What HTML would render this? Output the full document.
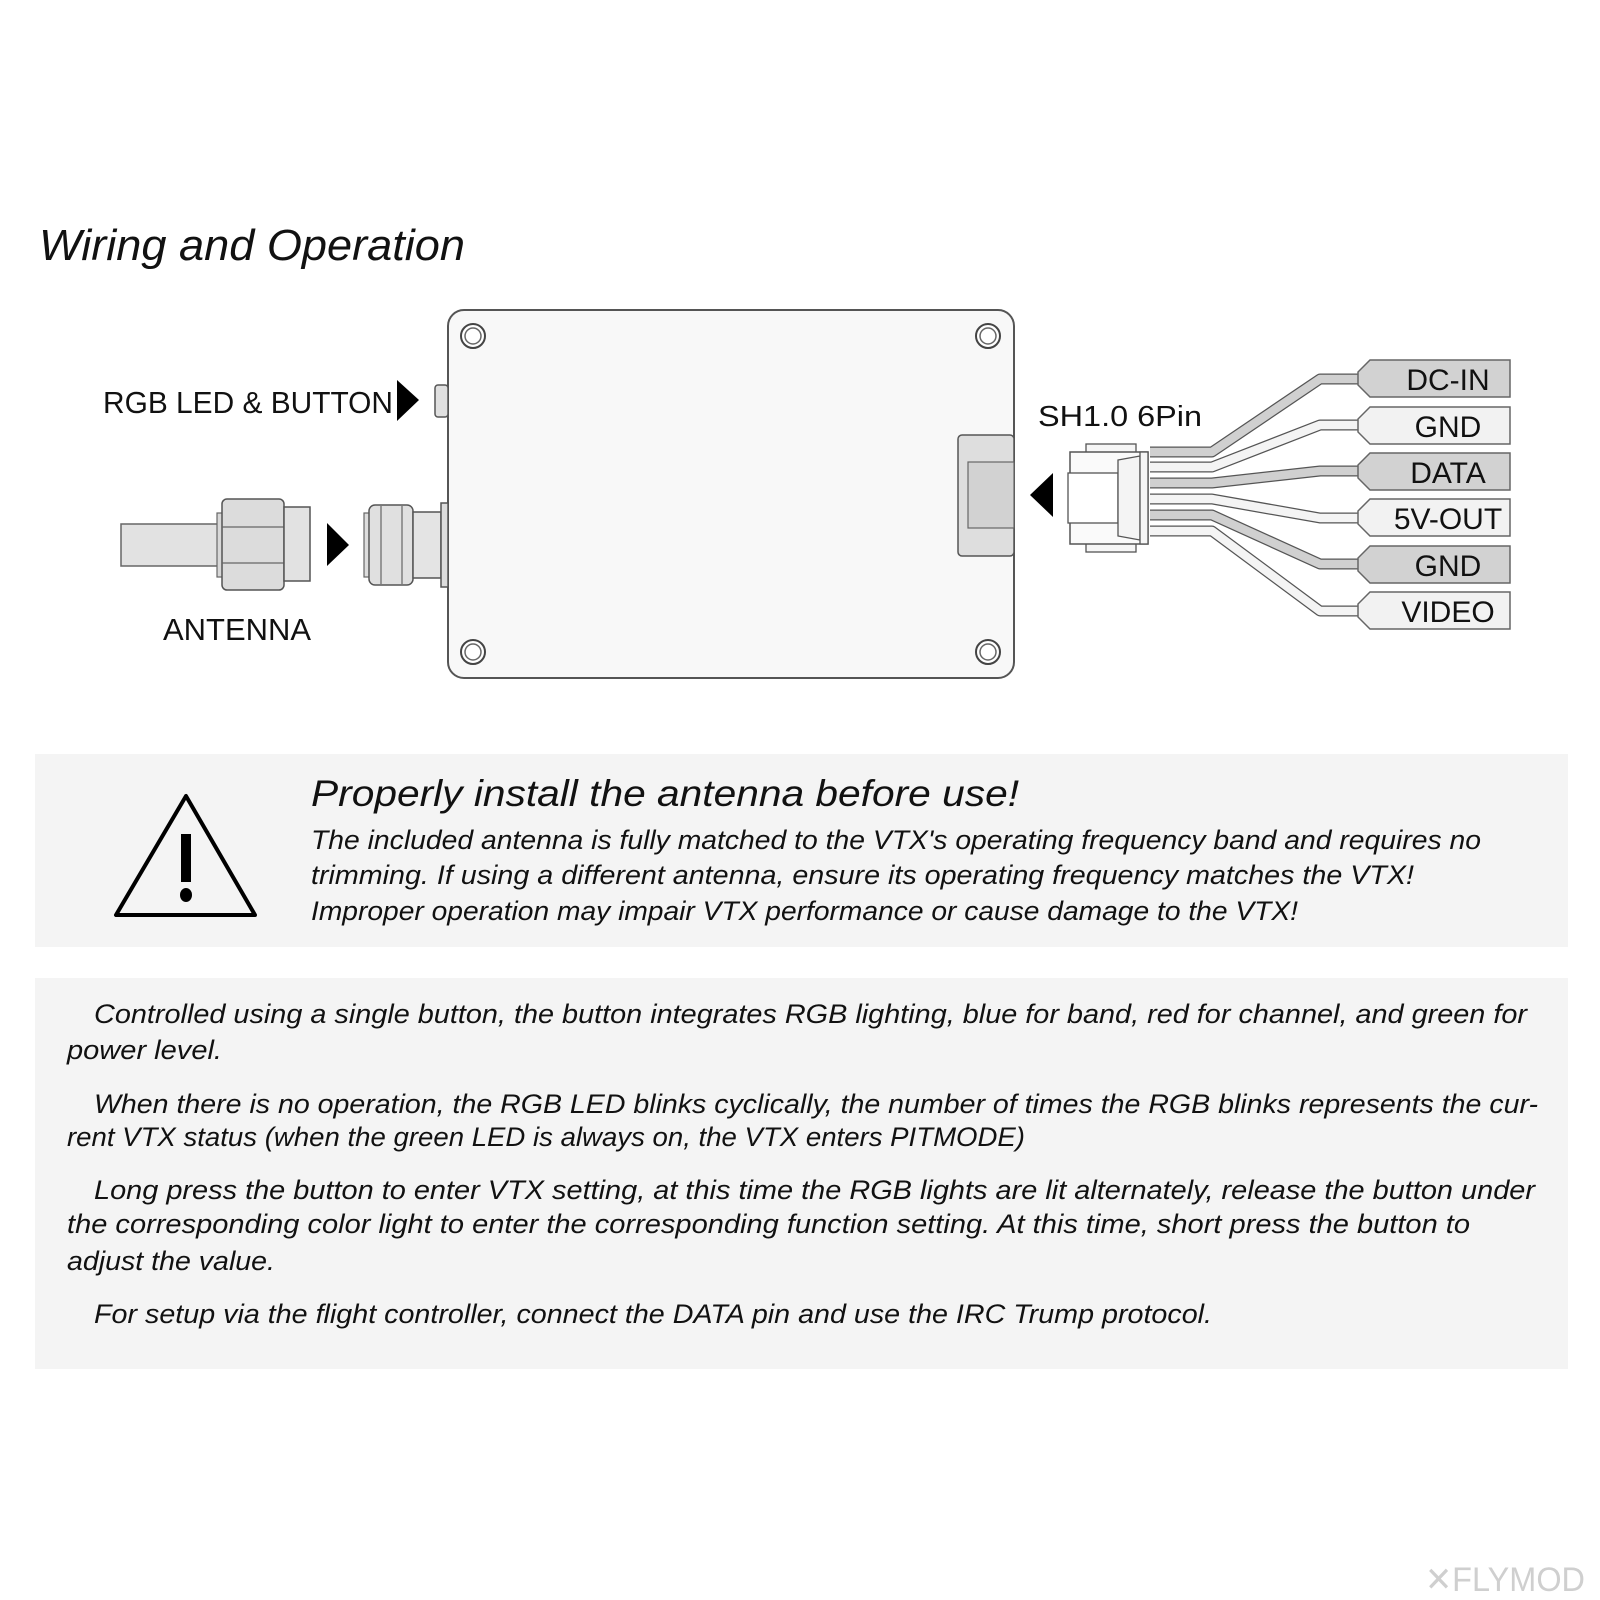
<!DOCTYPE html>
<html><head><meta charset="utf-8"><style>html,body{margin:0;padding:0;background:#fff}svg{display:block}</style></head>
<body>
<svg width="1600" height="1600" viewBox="0 0 1600 1600" xmlns="http://www.w3.org/2000/svg" font-family="Liberation Sans, sans-serif">
<rect width="1600" height="1600" fill="#fff"/>
<text x="39" y="260" font-size="44" font-style="italic" textLength="426" lengthAdjust="spacingAndGlyphs" fill="#111">Wiring and Operation</text>

<!-- board -->
<rect x="448" y="310" width="566" height="368" rx="16" fill="#f8f8f8" stroke="#555" stroke-width="2"/>
<g fill="#fff" stroke="#444" stroke-width="2">
<circle cx="473" cy="336" r="12"/><circle cx="988" cy="336" r="12"/><circle cx="473" cy="652" r="12"/><circle cx="988" cy="652" r="12"/>
</g>
<g fill="none" stroke="#666" stroke-width="1.5">
<circle cx="473" cy="336" r="8"/><circle cx="988" cy="336" r="8"/><circle cx="473" cy="652" r="8"/><circle cx="988" cy="652" r="8"/>
</g>
<!-- button -->
<rect x="435" y="385" width="13" height="32" rx="3" fill="#e0e0e0" stroke="#555" stroke-width="1.5"/>
<text x="103" y="413" font-size="31" textLength="290" lengthAdjust="spacingAndGlyphs" fill="#111">RGB LED &amp; BUTTON</text>
<polygon points="397,380 419,400 397,421" fill="#000"/>

<!-- antenna -->
<rect x="121" y="524" width="100" height="42" fill="#e2e2e2" stroke="#666" stroke-width="1.5"/>
<rect x="217" y="513" width="6" height="64" fill="#d8d8d8" stroke="#666" stroke-width="1.2"/>
<rect x="222" y="499" width="62" height="91" rx="5" fill="#dcdcdc" stroke="#555" stroke-width="1.5"/>
<line x1="222" y1="527" x2="284" y2="527" stroke="#666" stroke-width="1.3"/>
<line x1="222" y1="563" x2="284" y2="563" stroke="#666" stroke-width="1.3"/>
<rect x="284" y="507" width="26" height="74" fill="#e2e2e2" stroke="#555" stroke-width="1.5"/>
<polygon points="327,523 349,545 327,566" fill="#000"/>
<text x="163" y="640" font-size="31" textLength="148" lengthAdjust="spacingAndGlyphs" fill="#111">ANTENNA</text>
<!-- jack -->
<rect x="364" y="513" width="6" height="64" fill="#ddd" stroke="#666" stroke-width="1.2"/>
<rect x="369" y="505" width="44" height="80" rx="6" fill="#e0e0e0" stroke="#555" stroke-width="1.5"/>
<line x1="381" y1="506" x2="381" y2="584" stroke="#666" stroke-width="1.2"/>
<line x1="402" y1="506" x2="402" y2="584" stroke="#666" stroke-width="1.2"/>
<rect x="413" y="512" width="28" height="66" fill="#e4e4e4" stroke="#555" stroke-width="1.5"/>
<rect x="441" y="503" width="7" height="84" fill="#ddd" stroke="#555" stroke-width="1.5"/>

<!-- housing on board -->
<rect x="958" y="435" width="56" height="121" rx="4" fill="#dedede" stroke="#555" stroke-width="1.5"/>
<rect x="968" y="462" width="46" height="66" fill="#d2d2d2" stroke="#666" stroke-width="1.2"/>
<polygon points="1053,473 1030,495 1053,517" fill="#000"/>
<text x="1038" y="426" font-size="29" textLength="164" lengthAdjust="spacingAndGlyphs" fill="#111">SH1.0  6Pin</text>

<!-- wires -->
<g fill="none" stroke-linejoin="round">
<g stroke="#555" stroke-width="11">
<path d="M1150 452 H1212 L1320 379 H1372"/>
<path d="M1150 467 H1212 L1320 425 H1372"/>
<path d="M1150 483 H1212 L1320 471 H1372"/>
<path d="M1150 499 H1212 L1320 518 H1372"/>
<path d="M1150 515 H1212 L1320 564 H1372"/>
<path d="M1150 531 H1212 L1320 611 H1372"/>
</g>
<g stroke-width="8.5">
<path d="M1150 452 H1212 L1320 379 H1372" stroke="#d0d0d0"/>
<path d="M1150 467 H1212 L1320 425 H1372" stroke="#f4f4f4"/>
<path d="M1150 483 H1212 L1320 471 H1372" stroke="#d0d0d0"/>
<path d="M1150 499 H1212 L1320 518 H1372" stroke="#f4f4f4"/>
<path d="M1150 515 H1212 L1320 564 H1372" stroke="#d0d0d0"/>
<path d="M1150 531 H1212 L1320 611 H1372" stroke="#f4f4f4"/>
</g>
</g>
<!-- plug -->
<rect x="1086" y="444" width="50" height="9" fill="#f6f6f6" stroke="#555" stroke-width="1.3"/>
<rect x="1086" y="543" width="50" height="9" fill="#f6f6f6" stroke="#555" stroke-width="1.3"/>
<rect x="1070" y="452" width="78" height="92" fill="#fafafa" stroke="#555" stroke-width="1.5"/>
<rect x="1068" y="473" width="50" height="50" fill="#fff" stroke="#555" stroke-width="1.3"/>
<polygon points="1118,460 1140,456 1140,540 1118,536" fill="#f4f4f4" stroke="#555" stroke-width="1.3"/>
<rect x="1140" y="452" width="8" height="92" fill="#f6f6f6" stroke="#555" stroke-width="1.3"/>

<!-- labels -->
<g stroke="#666" stroke-width="1.5" font-size="30" text-anchor="middle">
<polygon points="1370,360 1510,360 1510,397 1370,397 1358,385 1358,372" fill="#d2d2d2"/>
<polygon points="1370,407 1510,407 1510,444 1370,444 1358,432 1358,419" fill="#f2f2f2"/>
<polygon points="1370,453 1510,453 1510,490 1370,490 1358,478 1358,465" fill="#d2d2d2"/>
<polygon points="1370,499 1510,499 1510,536 1370,536 1358,524 1358,511" fill="#f2f2f2"/>
<polygon points="1370,546 1510,546 1510,583 1370,583 1358,571 1358,558" fill="#d2d2d2"/>
<polygon points="1370,592 1510,592 1510,629 1370,629 1358,617 1358,604" fill="#f2f2f2"/>
</g>
<g font-size="30" text-anchor="middle" fill="#111">
<text x="1448" y="390">DC-IN</text>
<text x="1448" y="437">GND</text>
<text x="1448" y="483">DATA</text>
<text x="1448" y="529">5V-OUT</text>
<text x="1448" y="576">GND</text>
<text x="1448" y="622">VIDEO</text>
</g>

<!-- warning box -->
<rect x="35" y="754" width="1533" height="193" fill="#f4f4f4"/>
<polygon points="186,796 116,915 255,915" fill="none" stroke="#000" stroke-width="4" stroke-linejoin="round"/>
<rect x="181" y="834" width="10" height="48" fill="#000"/>
<ellipse cx="186" cy="895" rx="6" ry="7" fill="#000"/>
<g font-style="italic" fill="#111">
<text x="311" y="806" font-size="37" textLength="708" lengthAdjust="spacingAndGlyphs">Properly install the antenna before use!</text>
<text x="311" y="849" font-size="27" textLength="1170" lengthAdjust="spacingAndGlyphs">The included antenna is fully matched to the VTX's operating frequency band and requires no</text>
<text x="311" y="884" font-size="27" textLength="1103" lengthAdjust="spacingAndGlyphs">trimming. If using a different antenna, ensure its operating frequency matches the VTX!</text>
<text x="311" y="920" font-size="27" textLength="987" lengthAdjust="spacingAndGlyphs">Improper operation may impair VTX performance or cause damage to the VTX!</text>
</g>

<!-- text box -->
<rect x="35" y="978" width="1533" height="391" fill="#f4f4f4"/>
<g font-style="italic" fill="#111" font-size="27">
<text x="94" y="1023" textLength="1433" lengthAdjust="spacingAndGlyphs">Controlled using a single button, the button integrates RGB lighting, blue for band, red for channel, and  green for</text>
<text x="67" y="1059" textLength="155" lengthAdjust="spacingAndGlyphs">power level.</text>
<text x="94" y="1113" textLength="1444" lengthAdjust="spacingAndGlyphs">When there is no operation, the RGB LED blinks cyclically, the number of times the RGB blinks represents the cur-</text>
<text x="67" y="1146" textLength="958" lengthAdjust="spacingAndGlyphs">rent VTX status (when the green LED is always on, the VTX enters PITMODE)</text>
<text x="94" y="1199" textLength="1441" lengthAdjust="spacingAndGlyphs">Long press the button to enter VTX setting, at this time the RGB lights are lit alternately, release the  button under</text>
<text x="67" y="1233" textLength="1403" lengthAdjust="spacingAndGlyphs">the corresponding color light to enter the corresponding function setting. At this time, short press the button to</text>
<text x="67" y="1270" textLength="208" lengthAdjust="spacingAndGlyphs">adjust the value.</text>
<text x="94" y="1323" textLength="1118" lengthAdjust="spacingAndGlyphs">For setup via the flight controller, connect the DATA pin and use the IRC Trump protocol.</text>
</g>

<!-- watermark -->
<text x="1425" y="1591" font-size="34" fill="#cfcfcf" textLength="160" lengthAdjust="spacingAndGlyphs">✕FLYMOD</text>
</svg>
</body></html>
